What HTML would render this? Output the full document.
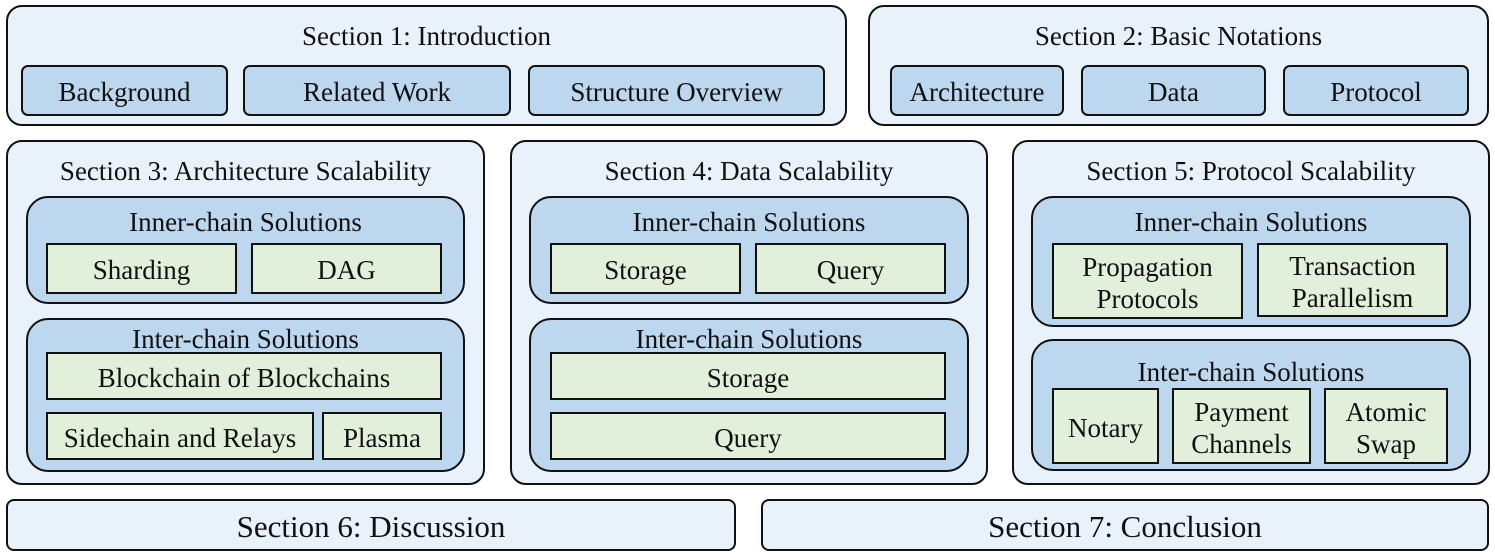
<!DOCTYPE html>
<html><head><meta charset="utf-8"><style>
body{margin:0;width:1495px;height:560px;background:#fff;position:relative;overflow:hidden;font-family:"Liberation Serif",serif;font-size:27px;color:#111}
.b{position:absolute;box-sizing:border-box;border:2.5px solid #111;display:flex;align-items:center;justify-content:center;text-align:center;line-height:32px;padding-top:3px}
.o{background:#e9f1fa;border-radius:16px}
.m{background:#bdd7ee;border-radius:22px}
.s{background:#bdd7ee;border-radius:7px}
.g{background:#e2efda;border-radius:0}
.t{position:absolute;text-align:center;line-height:30px;height:30px}
</style></head><body>
<div class="b o" style="left:6px;top:5px;width:841px;height:121px"></div>
<div class="t" style="left:6px;top:21px;width:841px">Section 1: Introduction</div>
<div class="b s" style="left:21px;top:65px;width:207px;height:51px">Background</div>
<div class="b s" style="left:243px;top:65px;width:268px;height:51px">Related Work</div>
<div class="b s" style="left:528px;top:65px;width:297px;height:51px">Structure Overview</div>
<div class="b o" style="left:868px;top:5px;width:621px;height:121px"></div>
<div class="t" style="left:868px;top:21px;width:621px">Section 2: Basic Notations</div>
<div class="b s" style="left:890px;top:65px;width:174px;height:51px">Architecture</div>
<div class="b s" style="left:1081px;top:65px;width:185px;height:51px">Data</div>
<div class="b s" style="left:1283px;top:65px;width:186px;height:51px">Protocol</div>
<div class="b o" style="left:6px;top:140px;width:479px;height:345px"></div>
<div class="t" style="left:6px;top:156px;width:479px">Section 3: Architecture Scalability</div>
<div class="b m" style="left:26px;top:196px;width:439px;height:108px"></div>
<div class="t" style="left:26px;top:207px;width:439px">Inner-chain Solutions</div>
<div class="b g" style="left:46px;top:243px;width:191px;height:51px">Sharding</div>
<div class="b g" style="left:251px;top:243px;width:191px;height:51px">DAG</div>
<div class="b m" style="left:26px;top:318px;width:439px;height:154px"></div>
<div class="t" style="left:26px;top:324px;width:439px">Inter-chain Solutions</div>
<div class="b g" style="left:46px;top:352px;width:396px;height:48px">Blockchain of Blockchains</div>
<div class="b g" style="left:46px;top:412px;width:268px;height:48px">Sidechain and Relays</div>
<div class="b g" style="left:322px;top:412px;width:120px;height:48px">Plasma</div>
<div class="b o" style="left:510px;top:140px;width:478px;height:345px"></div>
<div class="t" style="left:510px;top:156px;width:478px">Section 4: Data Scalability</div>
<div class="b m" style="left:529px;top:196px;width:440px;height:108px"></div>
<div class="t" style="left:529px;top:207px;width:440px">Inner-chain Solutions</div>
<div class="b g" style="left:550px;top:243px;width:191px;height:51px">Storage</div>
<div class="b g" style="left:755px;top:243px;width:191px;height:51px">Query</div>
<div class="b m" style="left:529px;top:318px;width:440px;height:154px"></div>
<div class="t" style="left:529px;top:324px;width:440px">Inter-chain Solutions</div>
<div class="b g" style="left:550px;top:352px;width:396px;height:48px">Storage</div>
<div class="b g" style="left:550px;top:412px;width:396px;height:48px">Query</div>
<div class="b o" style="left:1012px;top:140px;width:478px;height:345px"></div>
<div class="t" style="left:1012px;top:156px;width:478px">Section 5: Protocol Scalability</div>
<div class="b m" style="left:1031px;top:196px;width:440px;height:131px"></div>
<div class="t" style="left:1031px;top:207px;width:440px">Inner-chain Solutions</div>
<div class="b g" style="left:1052px;top:243px;width:191px;height:76px">Propagation<br>Protocols</div>
<div class="b g" style="left:1257px;top:243px;width:191px;height:74px">Transaction<br>Parallelism</div>
<div class="b m" style="left:1031px;top:339px;width:440px;height:132px"></div>
<div class="t" style="left:1031px;top:357px;width:440px">Inter-chain Solutions</div>
<div class="b g" style="left:1052px;top:388px;width:107px;height:76px">Notary</div>
<div class="b g" style="left:1172px;top:388px;width:139px;height:76px">Payment<br>Channels</div>
<div class="b g" style="left:1324px;top:388px;width:124px;height:76px">Atomic<br>Swap</div>
<div class="b o" style="left:6px;top:499px;width:730px;height:52px;border-radius:8px;font-size:31px">Section 6: Discussion</div>
<div class="b o" style="left:761px;top:499px;width:728px;height:52px;border-radius:8px;font-size:31px">Section 7: Conclusion</div>
</body></html>
